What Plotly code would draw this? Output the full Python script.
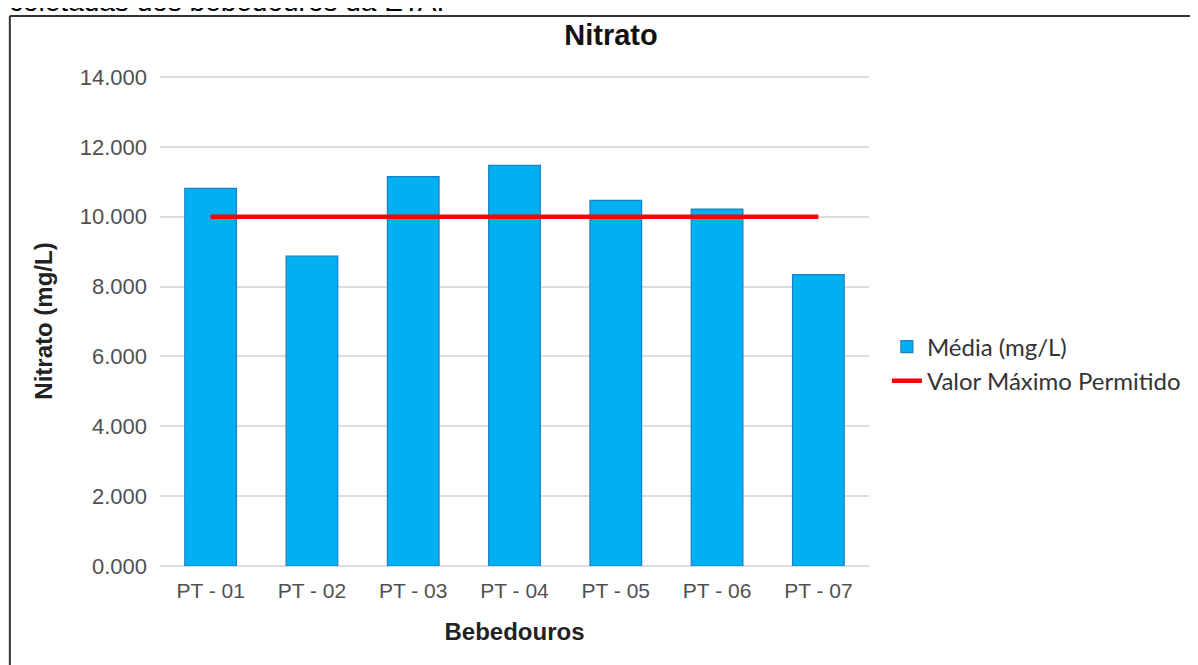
import plotly.graph_objects as go

categorias = ["PT - 01", "PT - 02", "PT - 03", "PT - 04", "PT - 05", "PT - 06", "PT - 07"]
media = [10.81, 8.87, 11.15, 11.47, 10.47, 10.22, 8.34]
vmp = [10, 10, 10, 10, 10, 10, 10]
y_ticks = [0, 2, 4, 6, 8, 10, 12, 14]

# page has an 8px body margin, so the figure is drawn 8px shifted
OFF = 8
W, H = 1198 - OFF, 665 - OFF
L, R, T, B = 160 - OFF, 873 - OFF, 76 - OFF, 566 - OFF

def px(x):  # figure-pixel x -> paper
    return (x - L) / (R - L)

def py(y):  # figure-pixel y -> paper
    return (B - y) / (B - T)

fig = go.Figure()
fig.add_trace(go.Bar(
    x=categorias, y=media, name="Média (mg/L)",
    marker=dict(color="#00B0F0", line=dict(color="#1A7FC4", width=1.2)),
    width=0.51,
))
fig.add_trace(go.Scatter(
    x=categorias, y=vmp, name="Valor Máximo Permitido",
    mode="lines", line=dict(color="#FF0000", width=4.5),
))

frame = dict(color="#333333", width=2)
fig.update_layout(
    width=W, height=H,
    margin=dict(l=L, r=W - R, t=T, b=H - B),
    paper_bgcolor="white", plot_bgcolor="white",
    title=dict(text="<b>Nitrato</b>", x=(611 - OFF) / W, xanchor="center",
               y=1 - (35 - OFF) / H, yanchor="middle",
               font=dict(family="Liberation Sans, Arial", size=29, color="#111111")),
    legend=dict(x=px(891 - OFF), xanchor="left",
                y=py(364 - OFF), yanchor="middle",
                font=dict(family="Lato, Open Sans", size=24, color="#333333"),
                itemwidth=30, bgcolor="rgba(0,0,0,0)"),
    xaxis=dict(
        tickfont=dict(family="Liberation Sans, Arial", size=21, color="#505050"),
        title=dict(text="<b>Bebedouros</b>", standoff=22,
                   font=dict(family="Liberation Sans, Arial", size=24, color="#222222")),
        showline=False, ticks="", showgrid=False, ticklabelstandoff=10,
    ),
    yaxis=dict(
        range=[0, 14.03], tickvals=y_ticks, tickformat=".3f",
        tickfont=dict(family="Liberation Sans, Arial", size=22, color="#505050"),
        title=dict(text="<b>Nitrato (mg/L)</b>", standoff=20,
                   font=dict(family="Liberation Sans, Arial", size=24, color="#222222")),
        showgrid=True, gridcolor="#DDDDDD", gridwidth=1.5,
        zeroline=True, zerolinecolor="#DDDDDD", zerolinewidth=1.5,
        showline=False, ticks="", ticklabelstandoff=12,
    ),
    shapes=[
        dict(type="line", xref="paper", yref="paper",
             x0=px(9 - OFF), x1=px(9 - OFF), y0=py(H + 20), y1=py(16 - OFF), line=frame),
        dict(type="line", xref="paper", yref="paper",
             x0=px(9 - OFF), x1=px(W + 40), y0=py(16 - OFF), y1=py(16 - OFF), line=frame),
    ],
    annotations=[dict(text="coletadas dos bebedouros da ETA.", xref="paper", yref="paper",
                      x=px(6 - OFF), xanchor="left",
                      y=py(19 - OFF), yanchor="bottom", showarrow=False,
                      font=dict(family="Liberation Sans, Arial", size=28, color="#000000"))],
)

fig.write_html("out.html")
